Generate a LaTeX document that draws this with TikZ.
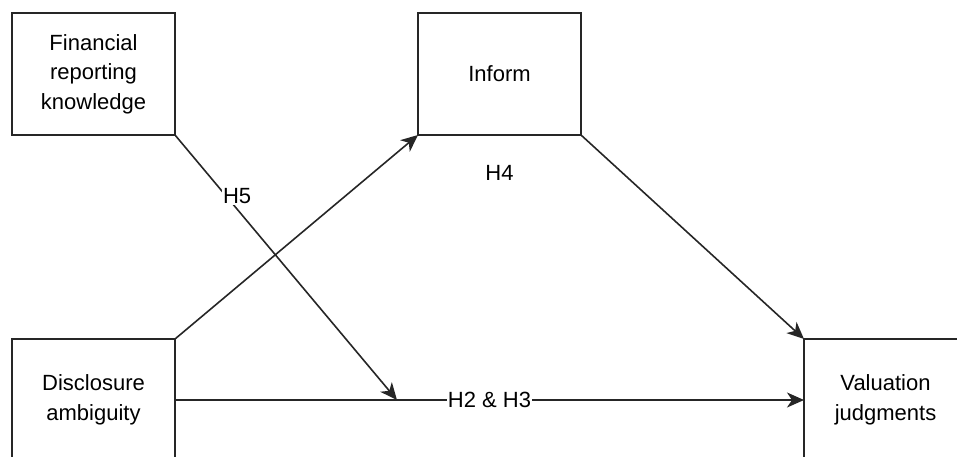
\documentclass[tikz,border=0pt]{standalone}
\usepackage{fontspec}
\setmainfont{Liberation Sans}
\usetikzlibrary{positioning}
\usetikzlibrary{arrows.meta}
\tikzset{
    x=1pt, y=-1pt,
    node distance=204pt and 243pt,
    box/.style={
        draw=black!85,
        line width=1.6pt,
        minimum width=163pt,
        minimum height=122pt,
        outer sep=0pt,
        align=center,
        font=\fontsize{22}{29.5}\selectfont
    },
    hyp/.style={
        fill=white,
        inner sep=1pt,
        font=\fontsize{22}{26}\selectfont
    },
    every edge/.append style={
        draw=black!85,
        line width=1.6pt,
        -{Stealth[length=17pt,width=15pt,inset=5pt]}
    }
}

\begin{document}
\begin{tikzpicture}
    \path[use as bounding box, clip] (0,0) rectangle (957,456);

    \node[box] (frk) at (93.5,74) {Financial\\reporting\\knowledge};
    \node[box, right=243pt of frk] (inform) {Inform};
    \node[box, below=204pt of frk] (dis) {Disclosure\\ambiguity};
    \node[box, right=629pt of dis] (val) {Valuation\\judgments};
    \node[hyp, inner sep=0pt, below=30pt of inform] (h4) {H4};
    \coordinate (mod) at (397,400);

    \draw (dis.north east) edge (inform.south west);
    \draw (inform.south east) edge (val.north west);
    \draw (dis) edge node[hyp] {H2 \& H3} (val);
    \draw (frk.south east) edge node[hyp, pos=0.23, xshift=11pt] {H5} (mod);
\end{tikzpicture}
\end{document}
